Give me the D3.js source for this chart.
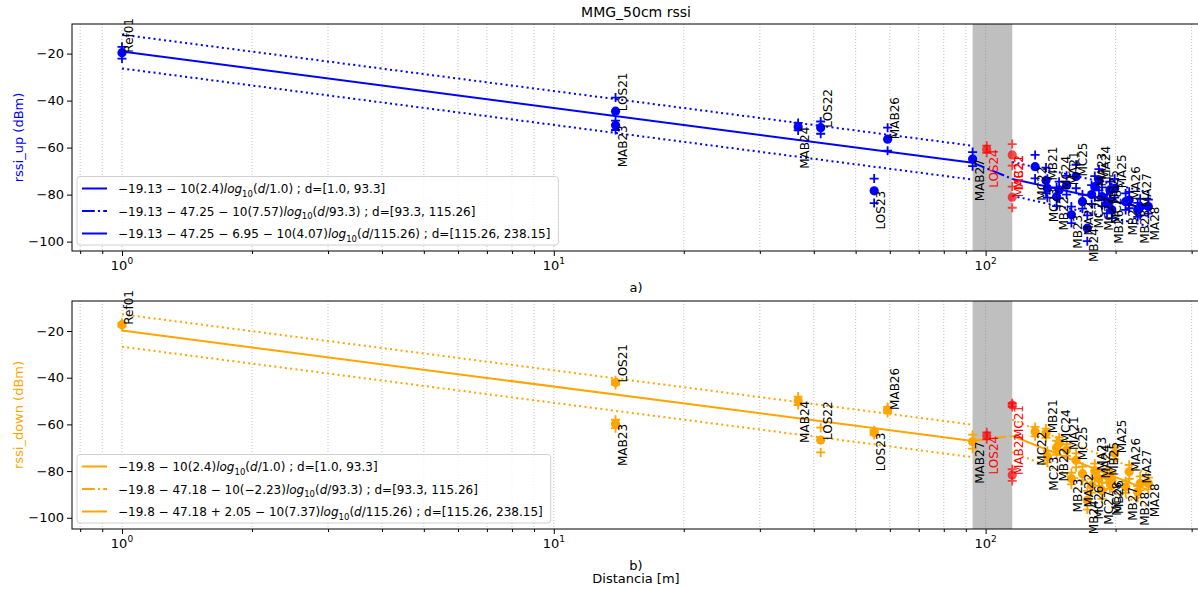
<!DOCTYPE html>
<html>
<head>
<meta charset="utf-8">
<script src="https://cdn.jsdelivr.net/npm/d3@7"></script>
<style>
  body { margin: 0; background: #fff; }
  text { font-family: "DejaVu Sans", sans-serif; }
</style>
</head>
<body>
<svg id="chart" width="1198" height="589"></svg>
<script>
// ---- measured points (distance in m, mean rssi and spread in dBm) ----
const names = ["Ref01", "LOS21", "MAB23", "MAB24", "LOS22", "LOS23", "MAB26", "MAB27", "LOS24", "MAB22", "MC21",
  "MC22", "MB21", "MC23", "MB22", "MC24", "MA21", "MB23", "MC25", "MA22", "MB24", "MC26", "MA23",
  "MA24", "MC27", "MB25", "MC28", "MB26", "MA25", "MB27", "MA26", "MB28", "MA27", "MA28"];
const dist = [1.0, 13.9, 13.9, 36.8, 41.5, 55.2, 59.3, 93.3, 100.6, 115.26, 115.26,
  130.2, 138, 139, 146, 148, 154, 158, 162, 167.6, 172, 176, 179,
  183, 186, 191, 194, 196, 199, 211, 215, 225, 228, 238.15];
const upMean = [-19.6, -44.5, -50.5, -51.1, -51.5, -78.4, -56.4, -64.9, -60.7, -81.1, -63.1,
  -68.1, -74.0, -77.3, -80.9, -78.0, -76.0, -88.6, -72.3, -83.0, -94.3, -80.0, -76.6,
  -73.7, -80.9, -84.0, -78.0, -86.5, -77.3, -83.0, -82.3, -86.5, -85.3, -85.1];
const upStd = [2.5, 5.8, 2.0, 1.6, 2.6, 5.2, 4.9, 3.0, 1.5, 4.5, 4.6,
  5.0, 5.5, 4.0, 4.0, 3.5, 4.0, 3.5, 5.0, 3.0, 5.5, 4.0, 4.5,
  4.5, 4.0, 4.0, 3.5, 3.5, 4.0, 3.5, 3.5, 3.0, 3.5, 3.0];
const downMean = [-17.3, -42.1, -59.8, -49.9, -66.7, -63.5, -53.8, -67.4, -64.9, -81.7, -51.7,
  -63.1, -63.8, -73.8, -70.0, -68.1, -71.0, -83.2, -75.4, -81.1, -92.5, -86.2, -79.8,
  -83.2, -88.4, -82.0, -84.6, -83.9, -72.4, -86.8, -80.3, -88.9, -85.3, -85.3];
const downStd = [0.8, 1.0, 1.8, 1.8, 5.3, 1.0, 1.3, 3.0, 1.5, 2.5, 0.8,
  2.0, 2.0, 2.5, 3.0, 2.5, 2.5, 2.5, 3.0, 3.0, 4.0, 3.0, 3.0,
  3.0, 3.5, 3.0, 3.0, 3.0, 2.5, 2.5, 3.0, 2.5, 3.0, 2.5];
// which way each name label runs from its point
const labelSide = ["u", "u", "d", "d", "u", "d", "u", "d", "d", "u", "d",
  "d", "u", "d", "d", "u", "u", "d", "u", "d", "d", "d", "u",
  "u", "d", "u", "d", "d", "u", "d", "u", "d", "u", "d"];

// ---- piecewise log-distance model ----
const breaks = [1.0, 93.3, 115.26, 238.15];
const upA = -19.13, upN = [2.4, 7.57, 4.07], upStep = [0, -47.25, -6.95], upBand = 7.2;
const downA = -19.8, downN = [2.4, -2.23, 7.37], downStep = [0, -47.18, 2.05], downBand = 6.95;

const yTicks = [-20, -40, -60, -80, -100];
const xMajor = [1, 10, 100];
const xMinor = [0.8, 0.9, 2, 3, 4, 5, 6, 7, 8, 9, 20, 30, 40, 50, 60, 70, 80, 90, 200, 300];

const svg = d3.select("#chart");
const xLeft = 72, xRight = 1199;
const x = d3.scaleLog().domain([0.766, 312]).range([xLeft, xRight]);
const fmtNum = v => (v % 1 === 0 ? v.toFixed(1) : String(v));
const minus = s => s.replace(/-/g, "\u2212");

svg.append("text")
  .attr("x", 636).attr("y", 17)
  .attr("text-anchor", "middle").style("font-size", "14px")
  .text("MMG_50cm rssi");

const panels = [
  { top: 24, bottom: 251, yDom: [-104, -7.4], color: "#0000ff", mean: upMean, std: upStd,
    A: upA, n: upN, step: upStep, band: upBand, ylab: "rssi_up (dBm)", cap: "a)" },
  { top: 301, bottom: 529, yDom: [-104.8, -7.15], color: "#ffa500", mean: downMean, std: downStd,
    A: downA, n: downN, step: downStep, band: downBand, ylab: "rssi_down (dBm)", cap: "b)" }
];

function model(p, d, i) {
  let base = p.A;
  for (let j = 0; j <= i; j++) base += p.step[j];
  return base - 10 * p.n[i] * Math.log10(d / breaks[i]);
}

panels.forEach((p, pi) => {
  const y = d3.scaleLinear().domain(p.yDom).range([p.bottom, p.top]);
  const clipId = "clip" + pi;
  svg.append("clipPath").attr("id", clipId)
    .append("rect").attr("x", xLeft).attr("y", p.top)
    .attr("width", xRight - xLeft).attr("height", p.bottom - p.top);
  const g = svg.append("g").attr("clip-path", `url(#${clipId})`);

  // vertical grid, major + minor
  g.selectAll(".grid").data(xMajor.concat(xMinor)).join("line")
    .attr("x1", d => x(d)).attr("x2", d => x(d))
    .attr("y1", p.top).attr("y2", p.bottom)
    .attr("stroke", "#b0b0b0").attr("stroke-width", 0.8)
    .attr("stroke-dasharray", "1,2");

  // excluded zone
  g.append("rect")
    .attr("x", x(breaks[1])).attr("width", x(breaks[2]) - x(breaks[1]))
    .attr("y", p.top).attr("height", p.bottom - p.top)
    .attr("fill", "#808080").attr("fill-opacity", 0.5);

  const line = d3.line().x(d => x(d[0])).y(d => y(d[1]));

  // model segments and bands
  for (let i = 0; i < 3; i++) {
    const b0 = breaks[i], b1 = breaks[i + 1];
    g.append("path")
      .attr("d", line([[b0, model(p, b0, i)], [b1, model(p, b1, i)]]))
      .attr("fill", "none").attr("stroke", p.color).attr("stroke-width", 2)
      .attr("stroke-dasharray", i === 1 ? "12.8,3.2,2,3.2" : null);
    if (i !== 1) {
      [p.band, -p.band].forEach(off => {
        g.append("path")
          .attr("d", line([[b0, model(p, b0, i) + off], [b1, model(p, b1, i) + off]]))
          .attr("fill", "none").attr("stroke", p.color).attr("stroke-width", 2)
          .attr("stroke-dasharray", "2,3.3");
      });
    }
  }

  const isRed = d => d > breaks[1] && d <= breaks[2];
  const colorOf = i => (isRed(dist[i]) ? "#ff0000" : p.color);
  const idx = d3.range(names.length);

  // spread markers
  idx.forEach(i => {
    [p.mean[i] + p.std[i], p.mean[i] - p.std[i]].forEach(v => {
      g.append("path")
        .attr("transform", `translate(${x(dist[i])},${y(v)})`)
        .attr("d", "M-4.5,0H4.5M0,-4.5V4.5")
        .attr("stroke", colorOf(i)).attr("stroke-width", 1.8)
        .attr("stroke-opacity", isRed(dist[i]) ? 0.7 : 1);
    });
  });
  // mean markers
  g.selectAll(".pt").data(idx).join("circle")
    .attr("cx", i => x(dist[i])).attr("cy", i => y(p.mean[i]))
    .attr("r", 4.6)
    .attr("fill", colorOf)
    .attr("fill-opacity", i => (isRed(dist[i]) ? 0.7 : 1));

  // frame
  svg.append("rect")
    .attr("x", xLeft).attr("y", p.top)
    .attr("width", xRight - xLeft).attr("height", p.bottom - p.top)
    .attr("fill", "none").attr("stroke", "#000").attr("stroke-width", 1);

  // point names
  svg.append("g").selectAll("text").data(idx).join("text")
    .attr("transform", i => `translate(${x(dist[i]) + 11},${y(p.mean[i])}) rotate(-90)`)
    .attr("text-anchor", i => (labelSide[i] === "u" ? "start" : "end"))
    .attr("fill", i => (isRed(dist[i]) ? "#ff0000" : "#000"))
    .style("font-size", "12px")
    .text(i => names[i]);

  // y axis
  const yAxis = svg.append("g").attr("transform", `translate(${xLeft},0)`)
    .call(d3.axisLeft(y).tickValues(yTicks).tickSize(5).tickPadding(3));
  yAxis.select(".domain").remove();
  yAxis.selectAll("text").style("font-size", "13px").style("font-family", "DejaVu Sans");

  // x axis
  const xAxis = svg.append("g").attr("transform", `translate(0,${p.bottom})`);
  xAxis.call(d3.axisBottom(x).tickValues(xMajor).tickSize(5).tickFormat(""));
  xAxis.call(g2 => g2.select(".domain").remove());
  const xMin = svg.append("g").attr("transform", `translate(0,${p.bottom})`)
    .call(d3.axisBottom(x).tickValues(xMinor).tickSize(3).tickFormat(""));
  xMin.select(".domain").remove();

  xMajor.forEach(v => {
    const t = svg.append("text")
      .attr("x", x(v)).attr("y", p.bottom + 19)
      .attr("text-anchor", "middle").style("font-size", "13px");
    t.append("tspan").text("10");
    t.append("tspan").attr("dy", -6).style("font-size", "9px").text(String(Math.round(Math.log10(v))));
  });

  svg.append("text")
    .attr("x", 636).attr("y", p.bottom + 41)
    .attr("text-anchor", "middle").style("font-size", "13px")
    .text(p.cap);

  svg.append("text")
    .attr("transform", `translate(23,${(p.top + p.bottom) / 2}) rotate(-90)`)
    .attr("text-anchor", "middle").attr("fill", p.color)
    .style("font-size", "13px")
    .text(p.ylab);

  // legend
  const lg = svg.append("g");
  const box = lg.append("rect")
    .attr("x", xLeft + 5).attr("y", p.bottom - 74.5)
    .attr("height", 68.5).attr("rx", 3)
    .attr("fill", "#fff").attr("fill-opacity", 0.8)
    .attr("stroke", "#d0d0d0").attr("stroke-width", 1);
  let maxW = 0;
  for (let i = 0; i < 3; i++) {
    const cy = p.bottom - 74.5 + 12 + i * 22.5;
    lg.append("line")
      .attr("x1", xLeft + 10).attr("x2", xLeft + 35)
      .attr("y1", cy).attr("y2", cy)
      .attr("stroke", p.color).attr("stroke-width", 2)
      .attr("stroke-dasharray", i === 1 ? "12.8,3.2,2,3.2" : null);
    let head = minus(String(p.A));
    for (let j = 1; j <= i; j++) {
      head += p.step[j] < 0 ? " \u2212 " + Math.abs(p.step[j]) : " + " + p.step[j];
    }
    head += " \u2212 10(" + minus(String(p.n[i])) + ")";
    const t = lg.append("text")
      .attr("x", xLeft + 46).attr("y", cy + 4.5)
      .style("font-size", "12px");
    t.append("tspan").text(head);
    t.append("tspan").style("font-style", "italic").text("log");
    t.append("tspan").attr("dy", 3.5).style("font-size", "8.5px").text("10");
    t.append("tspan").attr("dy", -3.5).text("(");
    t.append("tspan").style("font-style", "italic").text("d");
    t.append("tspan").text("/" + fmtNum(breaks[i]) + ") ; d=[" + fmtNum(breaks[i]) + ", " + fmtNum(breaks[i + 1]) + "]");
    maxW = Math.max(maxW, t.node().getComputedTextLength());
  }
  box.attr("width", maxW + 49);
});

svg.append("text")
  .attr("x", 636).attr("y", 583)
  .attr("text-anchor", "middle").style("font-size", "13px")
  .text("Distancia [m]");
</script>
</body>
</html>
